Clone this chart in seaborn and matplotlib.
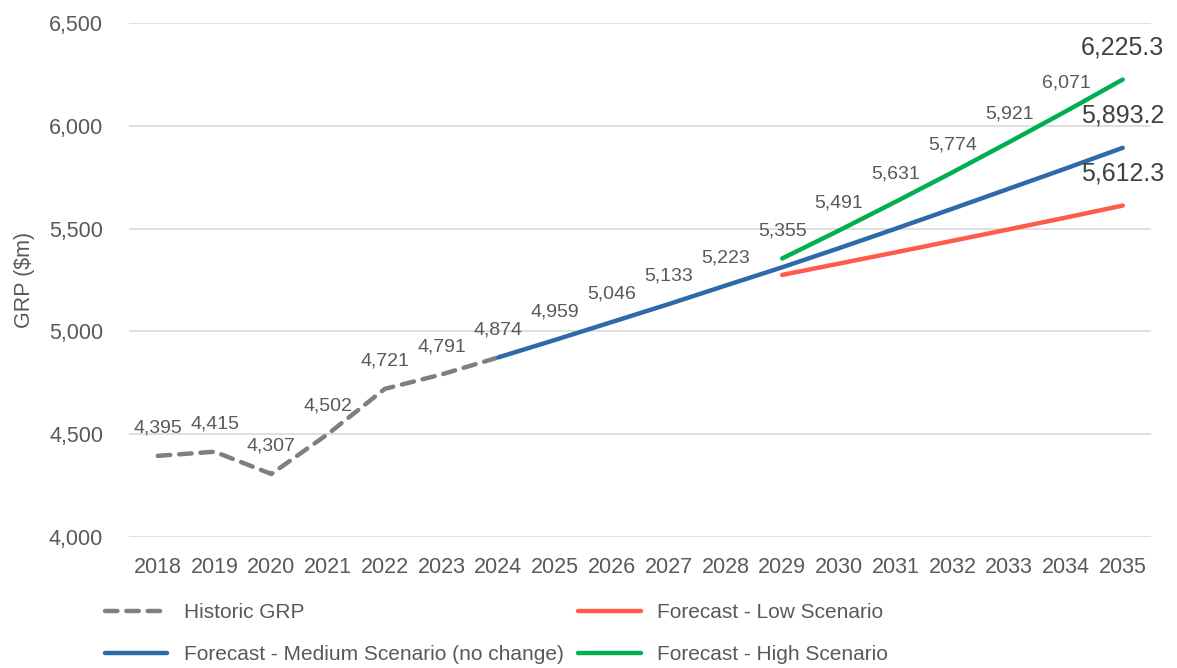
import pandas as pd
import matplotlib
matplotlib.use('Agg')
import matplotlib.pyplot as plt
import seaborn as sns

# wartosci
hist_years = [2018, 2019, 2020, 2021, 2022, 2023, 2024]
hist_vals = [4395, 4415, 4307, 4502, 4721, 4791, 4874]

med_years = [2024, 2025, 2026, 2027, 2028, 2029, 2030, 2031, 2032, 2033, 2034, 2035]
med_vals = [4874, 4959, 5046, 5133, 5223, 5312, 5405, 5500, 5597, 5695, 5793, 5893.2]

scen_years = [2029, 2030, 2031, 2032, 2033, 2034, 2035]
low_vals = [5275, 5330, 5385, 5441, 5497, 5554, 5612.3]
high_vals = [5355, 5491, 5631, 5774, 5921, 6071, 6225.3]

all_years = list(range(2018, 2036))
y_ticks = [4000, 4500, 5000, 5500, 6000, 6500]

C_HIST = '#7f7f7f'
C_MED = '#2e6aa8'
C_LOW = '#ff5a4b'
C_HIGH = '#00b050'
TXT = '#595959'

sns.set_theme(style='white')
plt.rcParams['font.family'] = ['Liberation Sans', 'DejaVu Sans']

fig = plt.figure(figsize=(11.77, 6.68), dpi=100)
ax = fig.add_axes([0.110, 0.196, 0.868, 0.7695])

df_hist = pd.DataFrame({'Year': hist_years, 'GRP': hist_vals})
df_med = pd.DataFrame({'Year': med_years, 'GRP': med_vals})
df_low = pd.DataFrame({'Year': scen_years, 'GRP': low_vals})
df_high = pd.DataFrame({'Year': scen_years, 'GRP': high_vals})

lw = 3.2
sns.lineplot(data=df_hist, x='Year', y='GRP', ax=ax, color=C_HIST, lw=lw,
             label='Historic GRP')
ax.lines[-1].set_linestyle((0, (2.8, 2.0)))
ax.lines[-1].set_dash_capstyle('round')
sns.lineplot(data=df_med, x='Year', y='GRP', ax=ax, color=C_MED, lw=lw,
             label='Forecast - Medium Scenario (no change)', solid_capstyle='round')
sns.lineplot(data=df_low, x='Year', y='GRP', ax=ax, color=C_LOW, lw=lw,
             label='Forecast - Low Scenario', solid_capstyle='round')
sns.lineplot(data=df_high, x='Year', y='GRP', ax=ax, color=C_HIGH, lw=lw,
             label='Forecast - High Scenario', solid_capstyle='round')

# etykiety danych
def lab(x, y, txt, size=14, color=TXT, dy=20):
    ax.annotate(txt, (x, y), xytext=(0, dy), textcoords='offset points',
                ha='center', va='center', fontsize=size, color=color)

for x, y in zip(hist_years, hist_vals):
    lab(x, y, f'{y:,.0f}')
for x, y in zip(med_years[1:5], med_vals[1:5]):
    lab(x, y, f'{y:,.0f}')
for x, y in zip(scen_years[:-1], high_vals[:-1]):
    lab(x, y, f'{y:,.0f}')
lab(2035, high_vals[-1], f'{high_vals[-1]:,.1f}', size=18, color='#404040', dy=23)
lab(2035, med_vals[-1], f'{med_vals[-1]:,.1f}', size=18, color='#404040', dy=23)
lab(2035, low_vals[-1], f'{low_vals[-1]:,.1f}', size=18, color='#404040', dy=23)

ax.set_xlim(2017.5, 2035.5)
ax.set_ylim(4000, 6500)
ax.set_xticks(all_years)
ax.set_xticklabels([str(y) for y in all_years])
ax.set_yticks(y_ticks)
ax.set_yticklabels([f'{v:,}' for v in y_ticks])
ax.tick_params(axis='both', labelsize=15.5, colors=TXT, length=0)
ax.tick_params(axis='x', pad=14)
ax.tick_params(axis='y', pad=19)
ax.grid(axis='y', color='#d9d9d9', lw=1.2)
ax.set_axisbelow(True)
for s in ax.spines.values():
    s.set_visible(False)
ax.set_xlabel('')
ax.set_ylabel('GRP ($m)', fontsize=15.5, color=TXT, labelpad=10)

handles, labels = ax.get_legend_handles_labels()
ax.get_legend().remove()
fig.legend(handles, labels,
           loc='lower left', bbox_to_anchor=(0.073, -0.022), ncol=2,
           frameon=False, fontsize=15, labelcolor=TXT, handlelength=3.0,
           columnspacing=0.7, handletextpad=0.8, labelspacing=1.1)

fig.savefig('out.png', dpi=100)
